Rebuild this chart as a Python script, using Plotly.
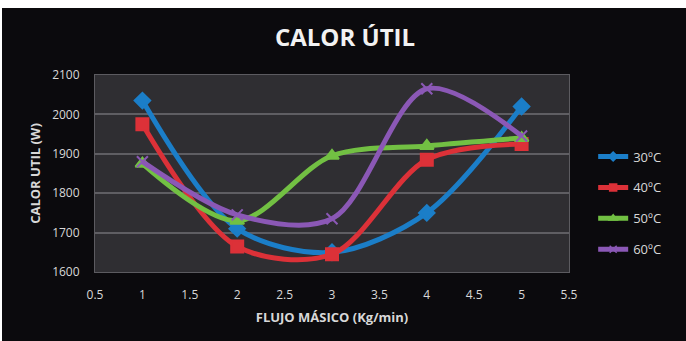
import plotly.graph_objects as go

x_vals = [1, 2, 3, 4, 5]
series_names = ["30ºC", "40ºC", "50ºC", "60ºC"]
s30 = [2035, 1710, 1650, 1750, 2020]
s40 = [1975, 1665, 1645, 1885, 1925]
s50 = [1875, 1730, 1895, 1920, 1940]
s60 = [1880, 1745, 1735, 2065, 1945]
colors = ["#1b7ec8", "#dc3138", "#72c043", "#8b58b6"]
symbols = ["diamond", "square", "triangle-up", "x-thin-open"]

fig = go.Figure()
for name, ys, c, sym in zip(series_names, [s30, s40, s50, s60], colors, symbols):
    fig.add_trace(go.Scatter(
        x=x_vals, y=ys, name=name, mode="lines+markers",
        line=dict(color=c, width=5, shape="spline", smoothing=0.9),
        marker=dict(symbol=sym, size=12 if sym != "x-thin-open" else 11, color=c,
                    line=dict(color=c, width=2)),
        showlegend=False,
    ))
# legend entries (smaller markers, like the original legend)
for name, c, sym in zip(series_names, colors, symbols):
    fig.add_trace(go.Scatter(
        x=[None], y=[None], name=name, mode="lines+markers",
        line=dict(color=c, width=5),
        marker=dict(symbol=sym, size=7, color=c, line=dict(color=c, width=1.5)),
        legendgroup=name, showlegend=True,
    ))

font_fam = "Open Sans, Liberation Sans, sans-serif"
fig.update_layout(
    width=686, height=341,
    margin=dict(l=93, r=119, t=67, b=77, autoexpand=False),
    paper_bgcolor="#0b0a0d",
    plot_bgcolor="#2f2e32",
    title=dict(text="<b>CALOR ÚTIL</b>", x=0.5, xanchor="center", y=(341 - 30) / 341, yanchor="middle",
               font=dict(family=font_fam, size=24, color="#f2f2f2")),
    showlegend=True,
    legend=dict(x=1.051, xanchor="left", y=0.35, yanchor="middle",
                font=dict(family=font_fam, size=13, color="#d8d8d8"),
                tracegroupgap=11, bgcolor="rgba(0,0,0,0)", itemwidth=30),
    font=dict(family=font_fam, color="#d8d8d8"),
)
fig.update_xaxes(range=[0.5, 5.5], dtick=0.5, tick0=0.5, showgrid=False, zeroline=False,
                 showline=True, linecolor="#5c5b60", linewidth=1, mirror=True, automargin=False,
                 ticks="", ticklabelstandoff=12, tickfont=dict(size=12, color="#d8d8d8"),
                 title=dict(text="<b>FLUJO MÁSICO (Kg/min)</b>", font=dict(size=13, color="#d8d8d8"), standoff=10))
fig.update_yaxes(range=[1600, 2100], dtick=100, showgrid=True, gridcolor="#5f5e63", gridwidth=1.5,
                 zeroline=False, showline=True, linecolor="#5c5b60", linewidth=1, mirror=True, automargin=False,
                 ticks="", ticklabelstandoff=12, tickfont=dict(size=12, color="#d8d8d8"),
                 title=dict(text="<b>CALOR UTIL (W)</b>", font=dict(size=13, color="#d8d8d8"), standoff=8))

fig.write_html("out.html", post_script="document.body.style.margin='8px 0 0 2px';")
